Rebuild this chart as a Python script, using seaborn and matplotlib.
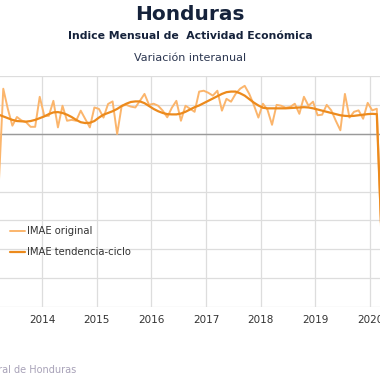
import numpy as np
import pandas as pd
import matplotlib
matplotlib.use("Agg")
import matplotlib.pyplot as plt
import seaborn as sns

# monthly year-on-year variation, Mar 2013 .. Mar 2020
start_year, start_month = 2013, 3

imae_original = [
    -9.0, 7.8, 4.3, 1.4, 2.9, 2.3, 2.0, 1.2, 1.2, 6.4,                   # 2013
    3.1, 3.1, 5.7, 1.1, 4.85, 2.25, 2.4, 2.25, 4.0, 2.55, 1.1, 4.55,     # 2014
    4.3, 2.8, 5.15, 5.6, -0.05, 4.85, 5.0, 4.7, 4.55, 5.7, 6.9, 5.0,     # 2015
    5.2, 4.85, 4.0, 2.85, 4.5, 5.7, 2.25, 4.85, 4.33, 3.8, 7.3, 7.45,    # 2016
    7.1, 6.6, 7.45, 4.0, 6.05, 5.55, 6.9, 7.8, 8.3, 6.9, 5.0, 2.8,       # 2017
    5.2, 4.15, 1.55, 5.0, 4.85, 4.5, 4.65, 5.2, 3.45, 6.4, 4.85, 5.55,   # 2018
    3.2, 3.3, 5.0, 4.05, 2.25, 0.6, 6.9, 2.8, 3.8, 4.05, 2.6, 5.35,      # 2019
    4.05, 4.33, -18.0,                                                   # 2020
]

imae_tendencia = [
    3.3, 3.0, 2.7, 2.4, 2.2, 2.15, 2.1, 2.2, 2.4, 2.7,                   # 2013
    3.0, 3.4, 3.7, 3.75, 3.6, 3.3, 2.9, 2.4, 2.0, 1.85, 1.9, 2.2,        # 2014
    2.8, 3.3, 3.6, 3.9, 4.3, 4.8, 5.2, 5.5, 5.6, 5.6, 5.3, 4.8,          # 2015
    4.3, 3.9, 3.6, 3.4, 3.35, 3.35, 3.5, 3.8, 4.2, 4.6, 4.9, 5.3,        # 2016
    5.7, 6.1, 6.5, 6.9, 7.2, 7.3, 7.3, 7.0, 6.6, 6.0, 5.4, 4.9,          # 2017
    4.5, 4.4, 4.4, 4.4, 4.4, 4.4, 4.45, 4.5, 4.55, 4.6, 4.55, 4.4,       # 2018
    4.2, 4.0, 3.8, 3.6, 3.4, 3.2, 3.1, 3.05, 3.1, 3.2, 3.3, 3.4,         # 2019
    3.45, 3.4, -17.0,                                                    # 2020
]

year_ticks = [2013, 2014, 2015, 2016, 2017, 2018, 2019, 2020]
series_names = ["IMAE original", "IMAE tendencia-ciclo"]
colors = {"IMAE original": "#fbb56c", "IMAE tendencia-ciclo": "#ec8a1c"}

# month positions as fractional years (mid-month)
n = len(imae_original)
months = [(start_month - 1 + i) for i in range(n)]
t = [start_year + (m + 0.5) / 12 for m in months]

df = pd.DataFrame({
    "t": t * 2,
    "valor": imae_original + imae_tendencia,
    "serie": [series_names[0]] * n + [series_names[1]] * n,
})

sns.set_style("white")
plt.rcParams["font.family"] = ["DejaVu Sans"]

fig = plt.figure(figsize=(3.8, 3.8), dpi=100)
# the chart is cropped: the axes run past the left and right edges of the image
ax = fig.add_axes([-40 / 380, 73 / 380, 437.3 / 380, 231 / 380])

sns.lineplot(data=df, x="t", y="valor", hue="serie", palette=colors,
             hue_order=series_names, ax=ax, legend=False)
ax.lines[0].set_linewidth(1.4)
ax.lines[1].set_linewidth(1.6)

ax.set_xlim(2012.5, 2020.5)
ax.set_ylim(-30, 10)
ax.set_xticks(year_ticks)
ax.set_xticklabels([str(y) for y in year_ticks], fontsize=7.5, color="#333333")
ax.set_yticks(np.arange(-30, 11, 5))
ax.set_yticklabels([])
ax.tick_params(length=0, pad=6)
ax.grid(True, color="#dddddd", linewidth=0.9)
ax.axhline(0, color="#9a9a9a", linewidth=1.0, zorder=1)
ax.set_xlabel("")
ax.set_ylabel("")
for s in ax.spines.values():
    s.set_visible(False)

# legend
for i, name in enumerate(series_names):
    yy = 1 - (231 + 21 * i) / 380
    fig.add_artist(plt.Line2D([10 / 380, 25 / 380], [yy, yy], color=colors[name],
                              linewidth=1.4 if i == 0 else 1.6))
    fig.text(27 / 380, yy, name, fontsize=7.2, color="#333333", va="center")

fig.text(0.5, 1 - 14 / 380, "Honduras", ha="center", va="center",
         fontsize=14.5, fontweight="bold", color="#15223b")
fig.text(0.5, 1 - 36 / 380, "Indice Mensual de  Actividad Económica", ha="center",
         va="center", fontsize=7.8, fontweight="bold", color="#15223b")
fig.text(0.5, 1 - 58 / 380, "Variación interanual", ha="center", va="center",
         fontsize=8, color="#2b3650")
fig.text(76 / 380, 1 - 370 / 380, "Fuente: Banco Central de Honduras", ha="right",
         va="center", fontsize=7, color="#a8a2b8")

fig.savefig("out.png", dpi=100)
